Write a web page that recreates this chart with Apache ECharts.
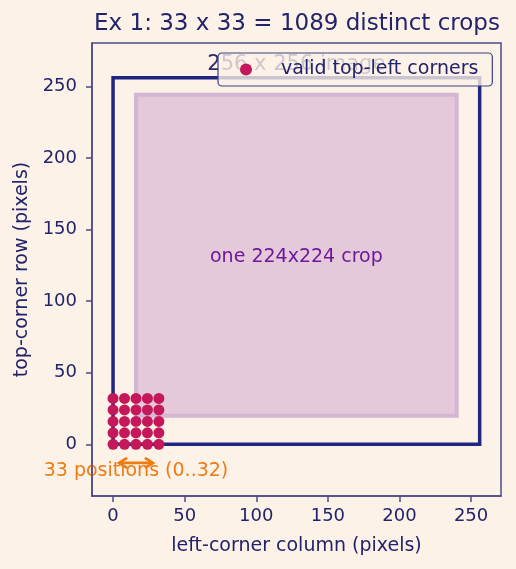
<!DOCTYPE html>
<html>
<head>
<meta charset="utf-8">
<script src="https://cdn.jsdelivr.net/npm/echarts@6/dist/echarts.min.js"></script>
<style>
  html, body { margin: 0; padding: 0; background: #fdf2e8; }
  #main { width: 516px; height: 569px; }
</style>
</head>
<body>
<div id="main"></div>
<script>
// image and crop geometry (pixels)
const imageSize = 256;
const cropSize = 224;
const cropOrigin = [16, 20];
// sampled valid top-left corners (every 8th position)
const cornerCols = [0, 8, 16, 24, 32];
const cornerRows = [0, 8, 16, 24, 32];
// orange span arrow (x from, x to, y)
const spanArrow = [0, 32, -13];
// tick labels
const xTicks = [0, 50, 100, 150, 200, 250];
const yTicks = [0, 50, 100, 150, 200, 250];
// text notes
const noteTexts = ['256 x 256 image', 'one 224x224 crop', '33 positions (0..32)'];
const noteX = [128, 128, 16];
const noteY = [265, 131, -19];

const navy = '#22236b';
const font = 'DejaVu Sans';

const chart = echarts.init(document.getElementById('main'), null, { renderer: 'canvas' });

let corners = [];
cornerRows.forEach(function (r) {
  cornerCols.forEach(function (c) {
    corners.push([c, r]);
  });
});

function rectItem(params, api) {
  const p0 = api.coord([api.value(0), api.value(1)]);
  const p1 = api.coord([api.value(2), api.value(3)]);
  return {
    type: 'rect',
    shape: { x: p0[0], y: p1[1], width: p1[0] - p0[0], height: p0[1] - p1[1] },
    style: api.style()
  };
}

function arrowItem(params, api) {
  const y = api.value(2);
  const a = api.coord([api.value(0), y]);
  const b = api.coord([api.value(1), y]);
  const shrink = 6, hl = 8, hw = 5;
  const x0 = a[0] + shrink, x1 = b[0] - shrink, py = a[1];
  const st = { stroke: '#ef7b12', lineWidth: 2.8, fill: null, lineJoin: 'miter' };
  return {
    type: 'group',
    children: [
      { type: 'line', shape: { x1: x0, y1: py, x2: x1, y2: py }, style: st },
      { type: 'polyline', shape: { points: [[x0 + hl, py - hw], [x0, py], [x0 + hl, py + hw]] }, style: st },
      { type: 'polyline', shape: { points: [[x1 - hl, py - hw], [x1, py], [x1 - hl, py + hw]] }, style: st }
    ]
  };
}

const noteColors = ['#2a2b6a', '#6a1b9a', '#ef7b12'];
const noteSizes = [21, 19, 19];
const notes = noteTexts.map(function (t, i) {
  return {
    value: [noteX[i], noteY[i]],
    label: { show: true, formatter: t, color: noteColors[i], fontSize: noteSizes[i] }
  };
});

const option = {
  backgroundColor: '#fdf2e8',
  animation: false,
  title: {
    text: 'Ex 1: 33 x 33 = 1089 distinct crops',
    left: 292,
    top: 8,
    textAlign: 'center',
    textStyle: { color: navy, fontFamily: font, fontSize: 23, fontWeight: 'normal' }
  },
  legend: {
    data: ['valid top-left corners'],
    left: 218,
    top: 53,
    padding: [7, 14, 7, 22],
    itemWidth: 12,
    itemHeight: 12,
    icon: 'circle',
    backgroundColor: 'rgba(253,242,232,0.78)',
    borderColor: '#3d3e82',
    borderWidth: 1.2,
    borderRadius: 4,
    textStyle: { color: navy, fontFamily: font, fontSize: 19, padding: [0, 0, 0, 24] }
  },
  grid: {
    left: 92, right: 15, top: 43, bottom: 73,
    show: true, borderColor: '#4b4b8a', borderWidth: 1.5, backgroundColor: 'transparent'
  },
  xAxis: {
    type: 'value',
    min: -14.7,
    max: 270.9,
    name: 'left-corner column (pixels)',
    nameLocation: 'middle',
    nameGap: 41,
    nameTextStyle: { color: navy, fontFamily: font, fontSize: 19 },
    splitLine: { show: false },
    axisLine: { show: true, onZero: false, lineStyle: { color: '#4b4b8a', width: 1.5 } },
    axisTick: { show: true, length: 6, customValues: xTicks, lineStyle: { color: '#4b4b8a', width: 1.5 } },
    axisLabel: { customValues: xTicks, color: navy, fontFamily: font, fontSize: 18, margin: 11 }
  },
  yAxis: {
    type: 'value',
    min: -36.1,
    max: 280.2,
    z: 10,
    name: 'top-corner row (pixels)',
    nameLocation: 'middle',
    nameGap: 58,
    nameTextStyle: { color: navy, fontFamily: font, fontSize: 19 },
    splitLine: { show: false },
    axisLine: { show: true, onZero: false, lineStyle: { color: '#4b4b8a', width: 1.5 } },
    axisTick: { show: true, length: 6, customValues: yTicks, lineStyle: { color: '#4b4b8a', width: 1.5 } },
    axisLabel: { customValues: yTicks, color: navy, fontFamily: font, fontSize: 18, margin: 15 }
  },
  series: [
    {
      name: 'crop',
      type: 'custom',
      renderItem: rectItem,
      itemStyle: { color: '#e5c8da', borderColor: '#d3b6d2', borderWidth: 4 },
      data: [[cropOrigin[0], cropOrigin[1], cropOrigin[0] + cropSize, cropOrigin[1] + cropSize]],
      z: 1
    },
    {
      name: 'image',
      type: 'custom',
      renderItem: rectItem,
      itemStyle: { color: 'transparent', borderColor: '#1f2680', borderWidth: 3.5 },
      data: [[0, 0, imageSize, imageSize]],
      z: 2
    },
    {
      name: 'notes',
      type: 'scatter',
      symbolSize: 0,
      silent: true,
      itemStyle: { opacity: 1 },
      label: { show: true, position: 'inside', fontFamily: font, fontSize: 19 },
      data: notes,
      z: 3
    },
    {
      name: 'span',
      type: 'custom',
      renderItem: arrowItem,
      data: [spanArrow],
      z: 4
    },
    {
      name: 'valid top-left corners',
      type: 'scatter',
      symbol: 'circle',
      symbolSize: 11,
      itemStyle: { color: '#c4185a', opacity: 1 },
      data: corners,
      z: 5
    }
  ]
};

chart.setOption(option);
</script>
</body>
</html>
